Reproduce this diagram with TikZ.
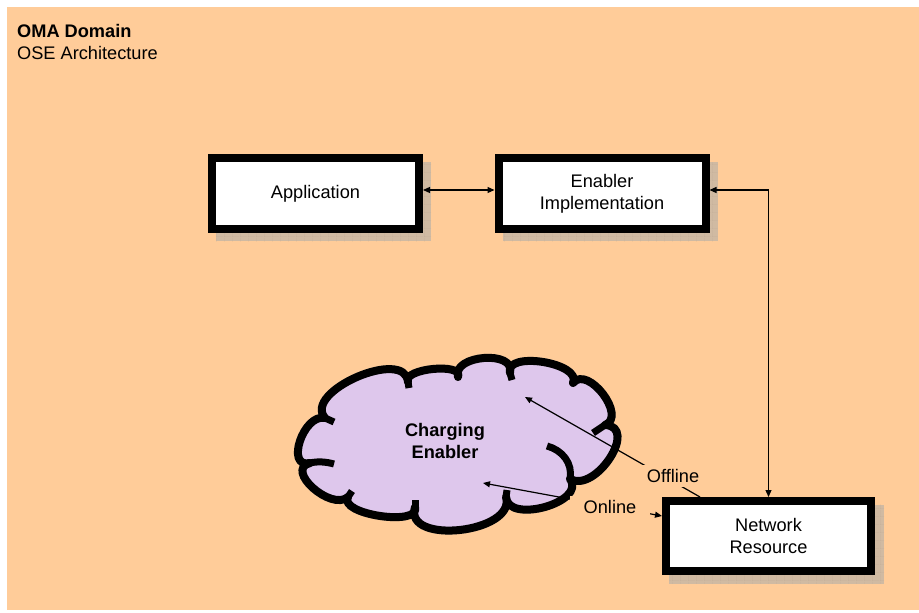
\documentclass[tikz,border=0pt]{standalone}
\usepackage{fontspec}
\setmainfont{Liberation Sans}
\usetikzlibrary{arrows.meta,calc,patterns.meta}
\definecolor{bgc}{RGB}{255,204,153}
\definecolor{cloudc}{RGB}{222,199,236}
\definecolor{shc}{RGB}{208,186,162}
\definecolor{shgridc}{RGB}{180,160,140}
\tikzdeclarepattern{
  name=shgrid, type=uncolored,
  bounding box={(0pt,0pt) and (8pt,8pt)},
  tile size={(8pt,8pt)},
  code={\draw[line width=0.5pt] (0pt,0pt) -- (8pt,0pt) (0pt,0pt) -- (0pt,8pt);}
}
% one puff of the cloud: from #1 bulging through #2 to #3
\newcommand{\puffto}[3]{.. controls ($0.4533*(#1)+1.3333*(#2)-0.7867*(#3)$) and ($0.4533*(#3)+1.3333*(#2)-0.7867*(#1)$) .. (#3)}
\newcommand{\cloudpath}{(J1) \puffto{J1}{P1}{J2} \puffto{J2}{P2}{J3} \puffto{J3}{P3}{J4} \puffto{J4}{P4}{J5} \puffto{J5}{P5}{J6} \puffto{J6}{P6}{J7} \puffto{J7}{P7}{J8} \puffto{J8}{P8}{J9} \puffto{J9}{P9}{J10} \puffto{J10}{P10}{J11} \puffto{J11}{P11}{J1} -- cycle}
\begin{document}
\begin{tikzpicture}[x=1pt,y=-1pt,
  txt/.style={font=\fontsize{18.2}{22}\selectfont},
  box/.style={txt, draw=black, line width=8pt, fill=white, minimum width=207pt, minimum height=71pt, inner sep=0pt, outer sep=4pt, align=center},
  shadowbox/.style={fill=shc, draw=none, minimum width=215pt, minimum height=79pt, inner sep=0pt,
     postaction={pattern=shgrid, pattern color=shgridc}},
  tip/.tip={Triangle[length=7pt,width=6pt]},
  conn/.style={line width=1.2pt, tip-tip},
  oneway/.style={line width=1.2pt, -tip},
  lbl/.style={txt, fill=bgc, inner ysep=4pt},
  stub/.style={line width=7pt, line cap=butt}
]
\useasboundingbox (0,0) rectangle (919,613);
\fill[white] (0,0) rectangle (919,613);
\fill[bgc] (7,7) rectangle (919,610);

% cloud junctions (J) and puff extremes (P)
\coordinate (J1) at (325,418);  \coordinate (P1) at (357,377);
\coordinate (J2) at (408,382);  \coordinate (P2) at (433,369);
\coordinate (J3) at (458,377);  \coordinate (P3) at (484,358);
\coordinate (J4) at (510,373);  \coordinate (P4) at (543,362);
\coordinate (J5) at (573,383);  \coordinate (P5) at (603,394);
\coordinate (J6) at (605,425);  \coordinate (P6) at (610,458);
\coordinate (J7) at (570,479);  \coordinate (P7) at (545,507);
\coordinate (J8) at (506,497);  \coordinate (P8) at (460,530);
\coordinate (J9) at (415,507);  \coordinate (P9) at (380,516);
\coordinate (J10) at (348,497); \coordinate (P10) at (313,488);
\coordinate (J11) at (310,463); \coordinate (P11) at (300,441);

% shadows
\node[shadowbox] (appsh) at (323.5,201.5) {};
\node[shadowbox] (enabsh) at (610,201.5) {};
\node[shadowbox] (netsh) at (776.5,544) {};
\begin{scope}[shift={(8,8)}]
  \path[fill=shc, draw=shc, line width=8pt, line join=round, postaction={pattern=shgrid, pattern color=shgridc}] \cloudpath;
\end{scope}

% boxes
\node[box] (app) at (315.5,193.5) {Application};
\node[box] (enab) at (602,193.5) {Enabler\\Implementation};
\node[box, minimum width=205pt, minimum height=70pt] (net) at (768.5,536) {Network\\Resource};

% cloud
\path[fill=cloudc, draw=black, line width=8pt, line join=round] \cloudpath;
% inner strokes of the cloud
\draw[stub] (J7) .. controls (573,463) and (562,450) .. (547,446);
\draw[stub] (J11) .. controls (318,461) and (327,462) .. (334,464);
\draw[stub] (J1) -- (334,422);
\draw[stub] (J6) -- (593,433);
\draw[stub] (J9) -- (415,500);
\draw[stub] (J8) -- (507,490);
\draw[stub] (J10) -- (352,491);
\draw[stub] (J4) -- (512,380);
\draw[stub] (J2) -- (409,388);

\node[txt, font=\bfseries\fontsize{18.2}{22}\selectfont, align=center] (cloudtxt) at (445,441) {Charging\\Enabler};

% title
\node[txt, font=\bfseries\fontsize{18.2}{22}\selectfont, anchor=base west, inner sep=0pt] (t1) at (17,37) {OMA Domain};
\node[txt, anchor=base west, inner sep=0pt] (t2) at (17,59) {OSE Architecture};

% connectors
\draw[conn] ([yshift=3.5pt]app.east) -- ([yshift=3.5pt]enab.west);
\draw[conn] ([yshift=3.5pt]enab.east) -| (net.north);

\coordinate (offend) at (525,397);
\coordinate (onend) at (483,483);
\draw[oneway] ([xshift=38pt]net.north west) -- (offend);
\draw[conn] ([yshift=20pt]net.west) -- (onend);
\node[lbl, inner xsep=10pt] (offl) at (673,476) {Offline};
\node[lbl, inner xsep=14pt] (onl) at (610,507) {Online};
\end{tikzpicture}
\end{document}
